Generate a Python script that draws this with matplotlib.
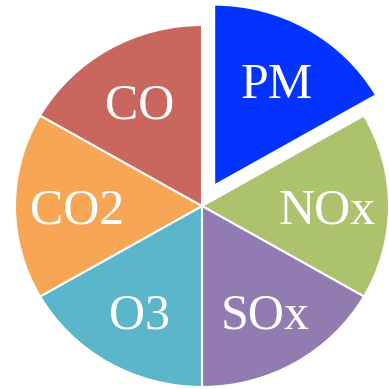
import matplotlib
matplotlib.use("Agg")
import matplotlib.pyplot as plt

### data ###
labels = ["PM", "NOx", "SOx", "O3", "CO2", "CO"]
shares = [1, 1, 1, 1, 1, 1]
colors = ["#0433FF", "#ACC26D", "#927BB0", "#5BB6CC", "#F7A655", "#C9665E"]
explode = [0.13, 0, 0, 0, 0, 0]
#############

fig = plt.figure(figsize=(3.89, 3.89), dpi=100)
ax = fig.add_axes([0, 0, 1, 1])

wedges, texts = ax.pie(
    shares, labels=labels, colors=colors, explode=explode,
    startangle=90, counterclock=False, labeldistance=0.67,
    wedgeprops=dict(edgecolor="white", linewidth=1.5),
    textprops=dict(color="white", fontsize=36, family="Liberation Serif",
                   ha="center", va="center_baseline"),
)

# the picture is a little wider than tall
ax.set_aspect("auto")
ax.set_xlim(-202 / 187, 187 / 187)
ax.set_ylim(-183 / 181, 206 / 181)
ax.axis("off")

# clipped glyph at the left edge
fig.text(2 / 389, 1 - 89 / 389, "l", ha="right", va="center",
         fontsize=26, color="black", family="DejaVu Sans")

fig.savefig("out.png", dpi=100)
